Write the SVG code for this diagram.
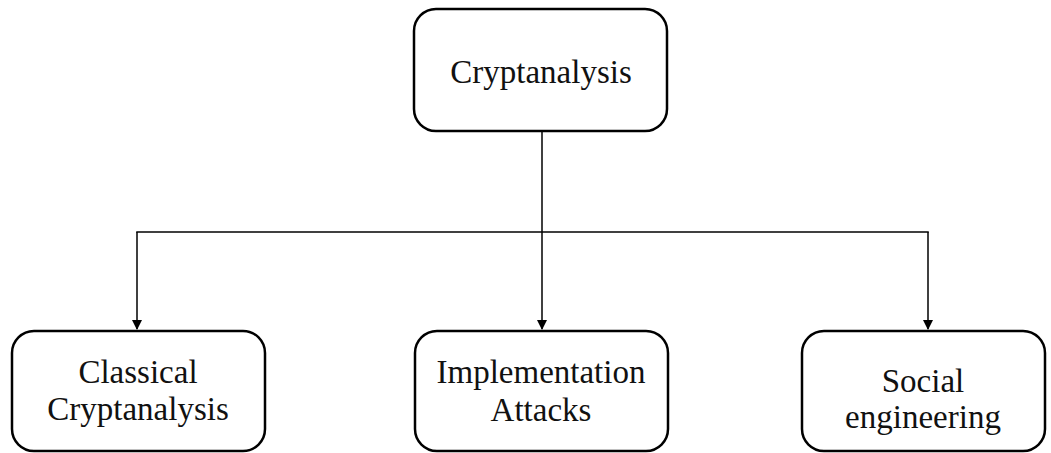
<svg xmlns="http://www.w3.org/2000/svg" width="1051" height="453" viewBox="0 0 1051 453">
<defs>
<style>
.box{fill:#fff;stroke:#000;stroke-width:2.5}
.t{font-family:"Liberation Serif","Times New Roman",serif;font-size:33px;fill:#111;text-anchor:middle}
.c{fill:none;stroke:#000;stroke-width:1.5}
.bus{stroke-linecap:square}
</style>
<marker id="ah" markerWidth="10" markerHeight="10" refX="9" refY="5" orient="auto" markerUnits="userSpaceOnUse">
<path d="M0,0 L10,5 L0,10 z" fill="#000"/>
</marker>
</defs>
<rect width="1051" height="453" fill="#fff"/>
<g id="connectors">
<path class="c" d="M542,131 V329" marker-end="url(#ah)"/>
<path class="c bus" d="M137,232 H928"/>
<path class="c" d="M137,232 V329" marker-end="url(#ah)"/>
<path class="c" d="M928,232 V329" marker-end="url(#ah)"/>
</g>
<g id="n-root">
<rect class="box" x="414" y="9" width="253" height="122" rx="22"/>
<text class="t" x="541" y="83">Cryptanalysis</text>
</g>
<g id="n-classical">
<rect class="box" x="12" y="331" width="253" height="120" rx="22"/>
<text class="t" x="138" y="383">Classical</text>
<text class="t" x="138" y="420">Cryptanalysis</text>
</g>
<g id="n-impl">
<rect class="box" x="415" y="331" width="253" height="120" rx="22"/>
<text class="t" x="541" y="383">Implementation</text>
<text class="t" x="541" y="421">Attacks</text>
</g>
<g id="n-social">
<rect class="box" x="802" y="331" width="243" height="120" rx="22"/>
<text class="t" x="923" y="392">Social</text>
<text class="t" x="923" y="428">engineering</text>
</g>
</svg>
